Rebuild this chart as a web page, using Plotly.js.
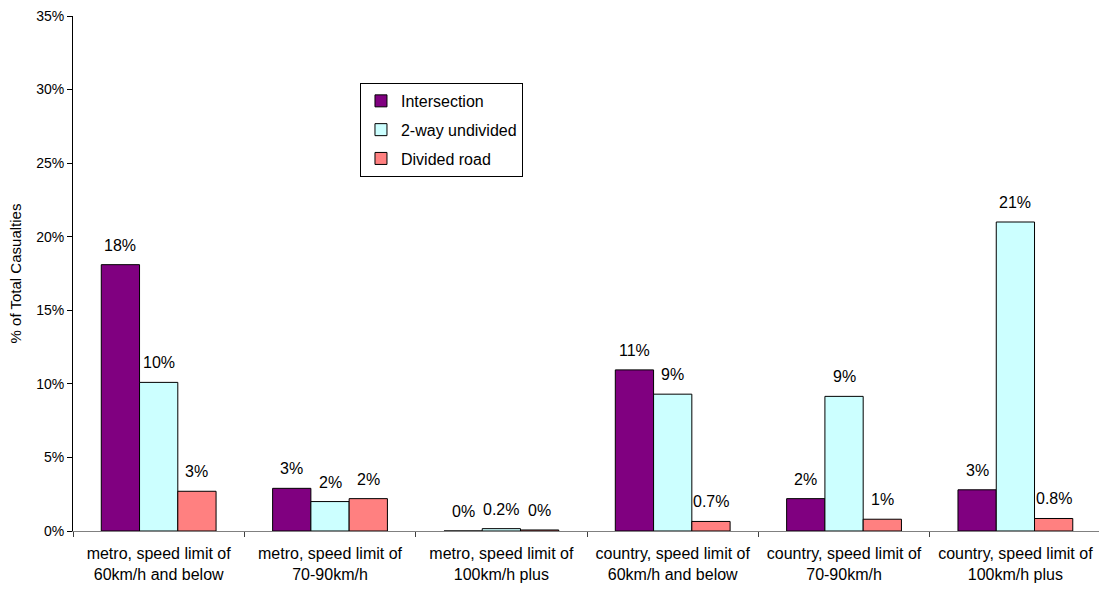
<!DOCTYPE html>
<html>
<head>
<meta charset="utf-8">
<script src="https://cdn.plot.ly/plotly-3.0.1.min.js"></script>
<style>html,body{margin:0;padding:0;background:#fff;}#chart{width:1099px;height:590px;}</style>
</head>
<body>
<div id="chart"></div>
<script>
var categories = [
  'metro, speed limit of<br>60km/h and below',
  'metro, speed limit of<br>70-90km/h',
  'metro, speed limit of<br>100km/h plus',
  'country, speed limit of<br>60km/h and below',
  'country, speed limit of<br>70-90km/h',
  'country, speed limit of<br>100km/h plus'
];
var seriesNames = ['Intersection', '2-way undivided', 'Divided road'];
var intersection = [18.1, 2.9, 0, 10.95, 2.2, 2.8];
var twoWay = [10.1, 2.0, 0.16, 9.3, 9.15, 21.0];
var divided = [2.7, 2.2, 0.07, 0.65, 0.8, 0.85];
var intersectionLabels = ['18%', '3%', '0%', '11%', '2%', '3%'];
var twoWayLabels = ['10%', '2%', '0.2%', '9%', '9%', '21%'];
var dividedLabels = ['3%', '2%', '0%', '0.7%', '1%', '0.8%'];
var yTickVals = [0, 5, 10, 15, 20, 25, 30, 35];

var colors = ['#800080', '#CCFFFF', '#FF8080'];
var values = [intersection, twoWay, divided];
var labels = [intersectionLabels, twoWayLabels, dividedLabels];
var font = 'Liberation Sans, Arial, sans-serif';
var bargap = 0.33;

var traces = values.map(function (v, k) {
  return {
    type: 'bar',
    name: seriesNames[k],
    x: categories,
    y: v,
    legendgroup: 'g' + k,
    marker: {color: colors[k], line: {color: '#000000', width: 1}},
    hoverinfo: 'skip'
  };
});

var annotations = [];
var w = (1 - bargap) / 3;
labels.forEach(function (arr, k) {
  arr.forEach(function (t, i) {
    annotations.push({
      xref: 'x', yref: 'y',
      x: i + (k - 1) * w,
      y: values[k][i],
      text: t,
      showarrow: false,
      yanchor: 'bottom',
      yshift: 9,
      font: {family: font, size: 16, color: '#000'}
    });
  });
});

var layout = {
  width: 1099, height: 590,
  margin: {l: 73, r: 0, t: 16, b: 59},
  paper_bgcolor: '#fff', plot_bgcolor: '#fff',
  barmode: 'group', bargap: bargap, bargroupgap: 0,
  font: {family: font, color: '#000'},
  showlegend: true,
  legend: {
    x: 0.2797, y: 0.87, xanchor: 'left', yanchor: 'top',
    bordercolor: '#000', borderwidth: 1, bgcolor: '#fff',
    font: {family: font, size: 16, color: '#000'},
    tracegroupgap: 5
  },
  xaxis: {
    type: 'category',
    range: [-0.5, 5.488],
    tickson: 'boundaries',
    ticks: 'outside', ticklen: 5, tickcolor: '#404040',
    ticklabelstandoff: 8,
    showline: true, linecolor: '#808080', linewidth: 1,
    showgrid: false, zeroline: false,
    tickfont: {family: font, size: 16, color: '#000'},
    fixedrange: true
  },
  yaxis: {
    range: [0, 35],
    tickvals: yTickVals,
    ticktext: yTickVals.map(function (v) { return v + '%'; }),
    ticks: 'outside', ticklen: 5, tickcolor: '#000',
    showline: true, linecolor: '#000', linewidth: 1,
    showgrid: false, zeroline: false,
    tickfont: {family: font, size: 14, color: '#000'},
    title: {text: '% of Total Casualties', font: {family: font, size: 15, color: '#000'}, standoff: 10},
    fixedrange: true
  },
  annotations: annotations
};

Plotly.newPlot('chart', traces, layout, {displayModeBar: false, staticPlot: true});
</script>
</body>
</html>
